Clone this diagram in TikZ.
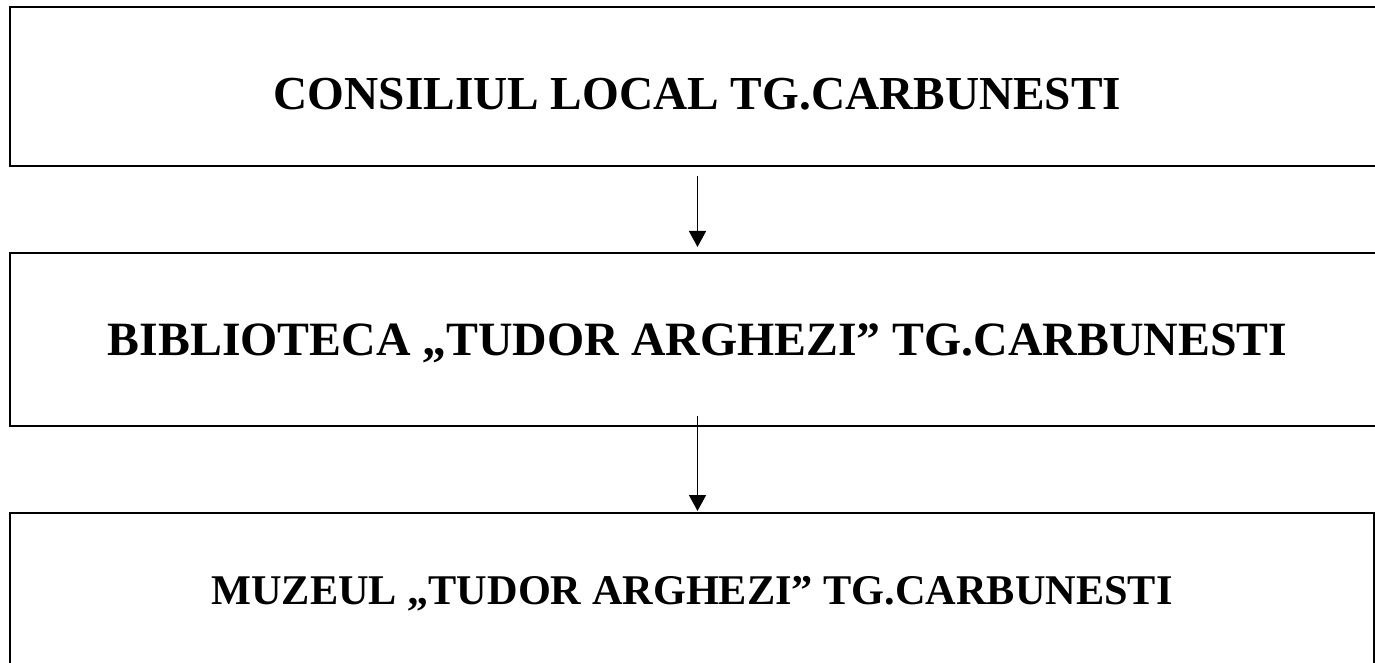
\documentclass[tikz,border=0pt]{standalone}
\usepackage{fontspec}
\setmainfont{Liberation Serif}
\usetikzlibrary{arrows.meta}
\tikzstyle{box} = [rectangle, draw, line width=2pt, inner sep=0pt, text centered, text height=32pt, text depth=0pt, font=\fontsize{48}{58}\selectfont\bfseries]
\tikzstyle{arrow} = [line width=1.6pt,-{Triangle[length=16pt,width=17pt]}]

\begin{document}
\begin{tikzpicture}[x=1pt,y=1pt]
    \clip (0,0) rectangle (1375,662);
    \node [box, minimum width=1375pt, minimum height=159pt, text height=46pt, font=\fontsize{47.3}{57}\selectfont\bfseries] at (697.5,575.5) (consiliu) {CONSILIUL LOCAL TG.CARBUNESTI};
    \node [box, minimum width=1375pt, minimum height=173pt, font=\fontsize{47.8}{57}\selectfont\bfseries] at (697.5,322.5) (biblioteca) {BIBLIOTECA „TUDOR ARGHEZI” TG.CARBUNESTI};
    \node [box, minimum width=1364pt, minimum height=160pt, text height=22pt, font=\fontsize{42.3}{51}\selectfont\bfseries] at (692,69) (muzeu) {MUZEUL „TUDOR ARGHEZI” TG.CARBUNESTI};
    \draw [arrow] ([yshift=-9pt]consiliu.south) -- ([yshift=5pt]biblioteca.north);
    \draw [arrow] ([yshift=11pt]biblioteca.south) -- ([yshift=1pt]biblioteca.south |- muzeu.north);
\end{tikzpicture}
\end{document}
